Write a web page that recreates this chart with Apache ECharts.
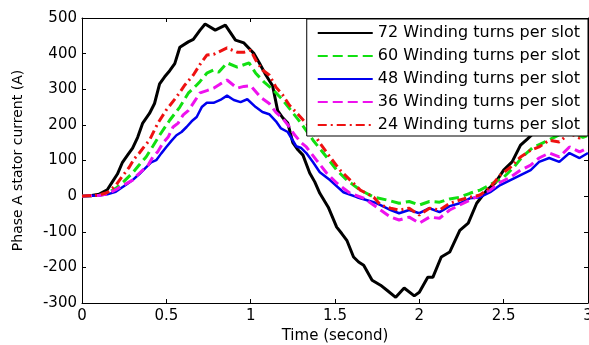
<!DOCTYPE html>
<html>
<head>
<meta charset="utf-8">
<script src="https://cdn.jsdelivr.net/npm/echarts@6/dist/echarts.min.js"></script>
<style>
html, body { margin: 0; padding: 0; background: #ffffff; }
#main { width: 589px; height: 345px; }
</style>
</head>
<body>
<div id="main"></div>
<script>
// 各曲线数据 [时间(s), 电流(A)]
var names = [ '72 Winding turns per slot', '60 Winding turns per slot', '48 Winding turns per slot', '36 Winding turns per slot', '24 Winding turns per slot' ];
var turns72 = [ [0,0],[0.05,1],[0.1,5],[0.15,18],[0.18,40],[0.21,62],[0.24,95],[0.27,115],[0.3,135],[0.33,165],[0.36,205],[0.4,232],[0.43,260],[0.46,315],[0.49,335],[0.52,352],[0.55,372],[0.58,418],[0.63,433],[0.66,440],[0.7,466],[0.73,483],[0.79,466],[0.85,480],[0.91,438],[0.96,430],[1.02,400],[1.05,375],[1.09,340],[1.13,310],[1.16,240],[1.19,220],[1.22,205],[1.25,150],[1.28,130],[1.31,115],[1.35,65],[1.38,40],[1.41,8],[1.46,-31],[1.51,-87],[1.54,-105],[1.57,-124],[1.61,-171],[1.64,-185],[1.67,-194],[1.72,-236],[1.77,-250],[1.81,-265],[1.86,-284],[1.91,-258],[1.97,-280],[2.0,-270],[2.05,-228],[2.08,-228],[2.13,-171],[2.18,-157],[2.24,-96],[2.29,-76],[2.34,-20],[2.4,17],[2.45,37],[2.5,73],[2.55,96],[2.6,143],[2.64,160],[2.68,178],[2.75,230],[2.82,290],[2.9,345],[3.0,400] ];
var turns60 = [ [0,0],[0.1,2],[0.15,8],[0.2,22],[0.25,42],[0.3,65],[0.34,88],[0.38,110],[0.42,140],[0.46,171],[0.52,213],[0.58,250],[0.63,289],[0.68,312],[0.7,322],[0.74,345],[0.78,354],[0.81,348],[0.86,374],[0.92,362],[0.99,374],[1.03,345],[1.08,320],[1.13,300],[1.19,270],[1.24,240],[1.29,210],[1.37,157],[1.45,110],[1.51,73],[1.57,45],[1.65,17],[1.73,-3],[1.81,-11],[1.88,-20],[1.94,-15],[2.0,-25],[2.06,-15],[2.12,-17],[2.18,-8],[2.24,-3],[2.3,8],[2.36,17],[2.44,37],[2.5,53],[2.56,81],[2.61,110],[2.67,135],[2.73,149],[2.79,163],[2.85,177],[2.91,180],[2.97,165],[3.0,170] ];
var turns48 = [ [0,0],[0.1,2],[0.15,5],[0.2,12],[0.23,22],[0.27,35],[0.3,45],[0.34,62],[0.38,81],[0.41,95],[0.44,101],[0.47,120],[0.5,138],[0.53,155],[0.56,171],[0.59,180],[0.62,194],[0.65,210],[0.68,222],[0.71,250],[0.74,262],[0.78,262],[0.82,270],[0.86,282],[0.9,270],[0.94,264],[0.98,272],[1.03,250],[1.07,236],[1.11,230],[1.15,210],[1.18,190],[1.22,180],[1.27,140],[1.3,135],[1.33,121],[1.37,95],[1.41,67],[1.47,45],[1.55,11],[1.63,-3],[1.68,-10],[1.73,-17],[1.77,-25],[1.83,-39],[1.88,-48],[1.94,-39],[2.0,-48],[2.06,-34],[2.12,-45],[2.18,-28],[2.24,-20],[2.3,-6],[2.36,-3],[2.42,11],[2.48,31],[2.54,45],[2.6,59],[2.66,73],[2.71,96],[2.77,107],[2.83,96],[2.89,121],[2.95,107],[3.0,121] ];
var turns36 = [ [0,0],[0.1,2],[0.15,6],[0.2,18],[0.25,32],[0.3,45],[0.33,60],[0.36,73],[0.39,85],[0.42,110],[0.45,125],[0.48,149],[0.51,165],[0.54,194],[0.57,205],[0.6,228],[0.63,240],[0.66,261],[0.7,290],[0.74,296],[0.78,303],[0.82,315],[0.86,326],[0.92,303],[0.96,308],[1.0,310],[1.06,277],[1.11,260],[1.15,235],[1.19,218],[1.23,194],[1.26,172],[1.3,150],[1.33,138],[1.39,101],[1.45,65],[1.51,37],[1.55,22],[1.59,8],[1.67,-6],[1.72,-22],[1.77,-39],[1.83,-59],[1.88,-67],[1.94,-59],[2.0,-76],[2.06,-59],[2.12,-62],[2.18,-39],[2.24,-25],[2.3,-11],[2.36,3],[2.42,17],[2.48,39],[2.54,53],[2.6,73],[2.66,87],[2.71,107],[2.77,121],[2.83,110],[2.89,138],[2.95,124],[3.0,135] ];
var turns24 = [ [0,0],[0.1,3],[0.15,10],[0.2,30],[0.23,50],[0.28,81],[0.31,105],[0.34,121],[0.37,140],[0.4,157],[0.45,205],[0.5,242],[0.56,278],[0.61,312],[0.66,340],[0.7,370],[0.74,396],[0.78,398],[0.86,416],[0.92,404],[0.96,404],[1.0,410],[1.03,382],[1.07,354],[1.11,340],[1.15,306],[1.19,284],[1.23,255],[1.27,235],[1.35,194],[1.41,149],[1.47,110],[1.53,73],[1.59,45],[1.65,17],[1.73,-3],[1.77,-25],[1.83,-34],[1.88,-39],[1.94,-34],[2.0,-53],[2.06,-34],[2.12,-39],[2.18,-20],[2.24,-11],[2.3,-3],[2.36,3],[2.42,25],[2.48,59],[2.54,81],[2.6,110],[2.66,129],[2.71,138],[2.77,157],[2.83,152],[2.89,177],[2.95,163],[3.0,177] ];

var myChart = echarts.init(document.getElementById('main'));
var font = 'DejaVu Sans';
var axisLine = { show : true, onZero : false, lineStyle : { color : '#000', width : 1 } };
var axisTick = { show : true, inside : true, length : 4, lineStyle : { color : '#000' } };
var splitLine = { show : false };
function mkLine(name, data, color, type, width) {
	return {
		name : name,
		type : 'line',
		symbol : 'none',
		smooth : false,
		animation : false,
		lineStyle : { color : color, width : width, type : type },
		itemStyle : { color : color },
		data : data
	};
}
option = {
	backgroundColor : '#ffffff',
	animation : false,
	grid : { left : 82, right : 1, top : 18, bottom : 42, outerBoundsMode : 'none', containLabel : false },
	legend : {
		orient : 'vertical',
		right : 1,
		top : 19,
		padding : [ 6, 8, 3, 10 ],
		itemWidth : 55,
		itemHeight : 14,
		itemGap : 7,
		itemStyle : { opacity : 0 },
		backgroundColor : '#ffffff',
		borderColor : '#000',
		borderWidth : 1,
		borderRadius : 0,
		textStyle : { fontFamily : font, fontSize : 16, color : '#000' },
		data : names
	},
	xAxis : [ {
		type : 'value', min : 0, max : 3, interval : 0.5,
		name : 'Time (second)', nameLocation : 'middle', nameGap : 22,
		nameTextStyle : { fontFamily : font, fontSize : 15, color : '#000' },
		axisLabel : { fontFamily : font, fontSize : 15, color : '#000', margin : 6 },
		axisLine : axisLine, axisTick : axisTick, splitLine : splitLine
	}, {
		type : 'value', position : 'top', min : 0, max : 3, interval : 0.5,
		axisLabel : { show : false },
		axisLine : axisLine, axisTick : axisTick, splitLine : splitLine
	} ],
	yAxis : [ {
		type : 'value', min : -300, max : 500, interval : 100,
		name : 'Phase A stator current (A)', nameLocation : 'middle', nameGap : 57,
		nameTextStyle : { fontFamily : font, fontSize : 14, color : '#000' },
		axisLabel : { fontFamily : font, fontSize : 15, color : '#000', margin : 5 },
		axisLine : axisLine, axisTick : axisTick, splitLine : splitLine
	}, {
		type : 'value', position : 'right', min : -300, max : 500, interval : 100,
		axisLabel : { show : false },
		axisLine : axisLine, axisTick : axisTick, splitLine : splitLine
	} ],
	series : [
		mkLine(names[0], turns72, '#000000', 'solid', 3),
		mkLine(names[1], turns60, '#11e011', [ 10, 5 ], 3),
		mkLine(names[2], turns48, '#0000ee', 'solid', 2.5),
		mkLine(names[3], turns36, '#ee11ee', [ 10, 5 ], 3),
		mkLine(names[4], turns24, '#ee1111', [ 9, 4, 2, 4 ], 3)
	]
};
myChart.setOption(option);
</script>
</body>
</html>
